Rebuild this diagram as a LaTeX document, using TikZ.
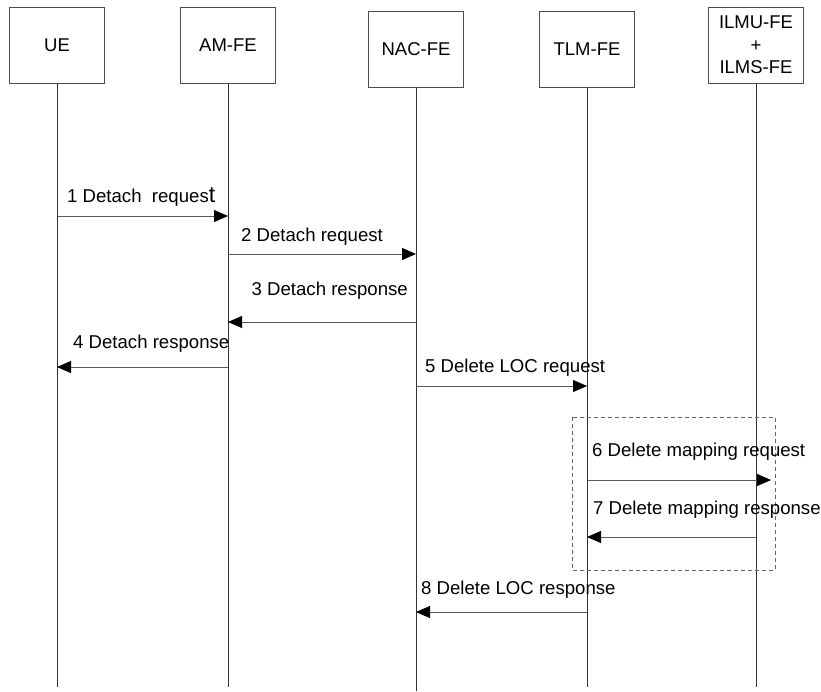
\documentclass[tikz,border=0pt]{standalone}
\usepackage{fontspec}
\setmainfont{Liberation Sans}
\usetikzlibrary{arrows.meta}
\begin{document}
\begin{tikzpicture}[x=1pt,y=-1pt,
  entity/.style={draw=black!70, line width=0.9pt, minimum width=95pt,
    minimum height=76pt, inner sep=0pt, align=center,
    font=\fontsize{18.5}{22.5}\selectfont},
  life/.style={draw=black!80, line width=0.9pt},
  msg/.style={draw=black!65, line width=0.9pt,
    -{Triangle[length=14pt,width=12pt,black]}},
  lbl/.style={font=\fontsize{18.6}{21}\selectfont, inner sep=0pt},
  group/.style={draw=black!60, line width=0.9pt, dash pattern=on 4pt off 3pt},
]
\useasboundingbox (0,0) rectangle (821,691);

% functional entities
\node[entity] (ue)   at (57,45)   {UE};
\node[entity] (am)   at (228,45)  {AM-FE};
\node[entity] (nac)  at (416,49.5) {NAC-FE};
\node[entity] (tlm)  at (587,49.5) {TLM-FE};
\node[entity] (ilm)  at (756,45)  {ILMU-FE\\+\\ILMS-FE};

% lifeline ends
\coordinate (ueE)  at (57,687);
\coordinate (amE)  at (228,687);
\coordinate (nacE) at (416,691);
\coordinate (tlmE) at (587,687);
\coordinate (ilmE) at (756,687);
\draw[life] (ue.south)  -- (ueE);
\draw[life] (am.south)  -- (amE);
\draw[life] (nac.south) -- (nacE);
\draw[life] (tlm.south) -- (tlmE);
\draw[life] (ilm.south) -- (ilmE);

% grouping of the mapping exchange
\draw[group] (572,417) rectangle (775,570);

% message end points on the lifelines
\coordinate (ue1)  at (57,216);   \coordinate (am1)  at (228,216);
\coordinate (am2)  at (228,254);  \coordinate (nac2) at (416,254);
\coordinate (nac3) at (416,322);  \coordinate (am3)  at (228,322);
\coordinate (am4)  at (228,367);  \coordinate (ue4)  at (57,367);
\coordinate (nac5) at (416,386);  \coordinate (tlm5) at (587,386);
\coordinate (tlm6) at (587,480);  \coordinate (ilm6) at (771,480);
\coordinate (ilm7) at (756,537);  \coordinate (tlm7) at (587,537);
\coordinate (tlm8) at (587,612);  \coordinate (nac8) at (416,612);

% messages
\draw[msg] (ue1)  -- (am1);
\draw[msg] (am2)  -- (nac2);
\draw[msg] (nac3) -- (am3);
\draw[msg] (am4)  -- (ue4);
\draw[msg] (nac5) -- (tlm5);
\draw[msg] (tlm6) -- (ilm6);
\draw[msg] (ilm7) -- (tlm7);
\draw[msg] (tlm8) -- (nac8);

% message labels
\node[lbl, anchor=west] (l1) at (67,197)  {1 Detach\ \ reques{\fontsize{23}{23}\selectfont t}};
\node[lbl, anchor=west] (l2) at (241,237) {2 Detach request};
\node[lbl, anchor=east] (l3) at (408,291) {3 Detach response};
\node[lbl, anchor=west] (l4) at (73,344)  {4 Detach response};
\node[lbl, anchor=west] (l5) at (425,368) {5 Delete LOC request};
\node[lbl, anchor=west] (l6) at (592,452) {6 Delete mapping request};
\node[lbl, anchor=west] (l7) at (593,510) {7 Delete mapping response};
\node[lbl, anchor=west] (l8) at (421,590) {8 Delete LOC response};
\end{tikzpicture}
\end{document}
